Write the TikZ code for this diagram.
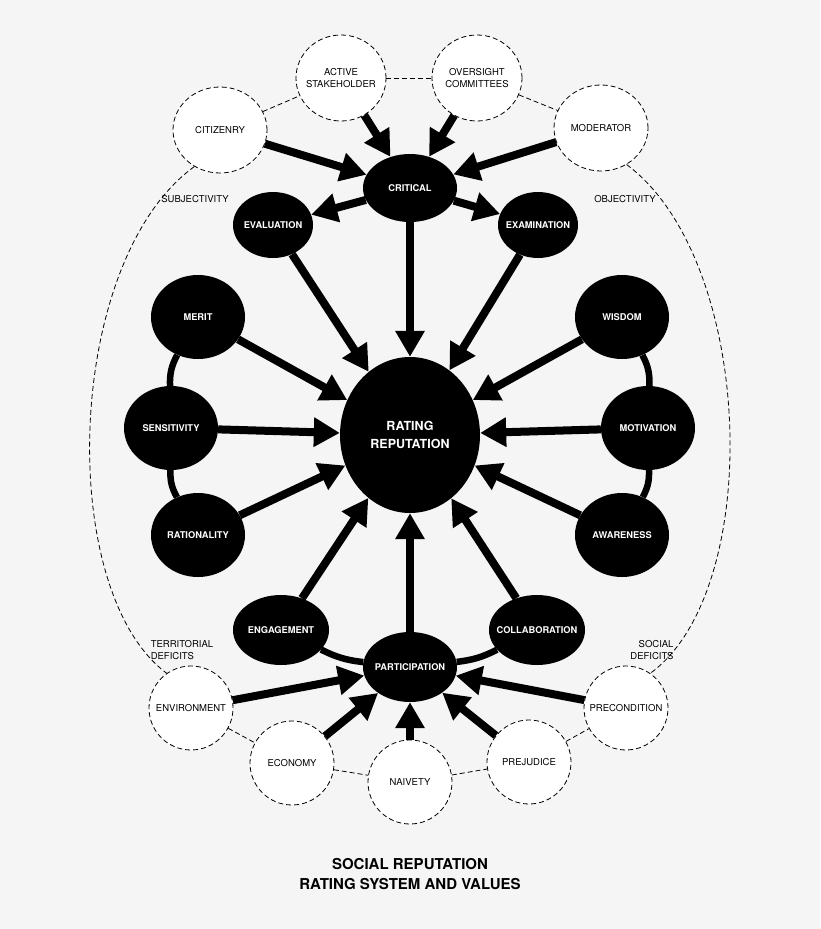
\documentclass[tikz,border=0pt]{standalone}
\usepackage{fontspec}
\setmainfont{TeX Gyre Heros}
\usepackage{xcolor}
\usepackage{tikz}
\usetikzlibrary{shapes.geometric, arrows.meta}
\definecolor{bgcol}{HTML}{F5F5F5}
\tikzstyle{ratingnode} = [ellipse, fill=black, text=white, font=\bfseries\fontsize{12.5}{18}\selectfont, align=center, inner sep=0pt, minimum width=140pt, minimum height=156pt]
\tikzstyle{valuenode} = [ellipse, fill=black, text=white, font=\bfseries\fontsize{9.3}{11}\selectfont, inner xsep=-20pt, inner ysep=0pt, minimum width=94pt, minimum height=84pt]
\tikzstyle{hubnode} = [valuenode, minimum width=94pt, minimum height=68pt]
\tikzstyle{actornode} = [ellipse, draw=black, line width=0.8pt, dash pattern=on 5pt off 3pt, fill=white, font=\fontsize{9.5}{12}\selectfont, align=center, inner xsep=-20pt, inner ysep=0pt, minimum width=90pt, minimum height=86pt]
\tikzstyle{labeltext} = [font=\fontsize{9.5}{12}\selectfont]
\tikzstyle{arrow} = [line width=8pt, -{Triangle[length=26pt, width=28pt]}]
\tikzstyle{tieline} = [line width=6.5pt]
\tikzstyle{dashline} = [line width=0.8pt, dash pattern=on 5pt off 3pt]

\begin{document}
\begin{tikzpicture}[x=1pt, y=-1pt]
	
	\useasboundingbox[fill=bgcol] (0,0) rectangle (820,929);
	
	\node (rating) [ratingnode] at (410,435) {RATING\\REPUTATION};
	
	\node (critical) [hubnode] at (410,188) {CRITICAL};
	\node (evaluation) [hubnode, minimum width=80pt, minimum height=66pt] at (273,225) {EVALUATION};
	\node (examination) [hubnode, minimum width=80pt, minimum height=66pt] at (538,225) {EXAMINATION};
	
	\node (merit) [valuenode] at (198,317) {MERIT};
	\node (sensitivity) [valuenode] at (171,428) {SENSITIVITY};
	\node (rationality) [valuenode] at (198,535) {RATIONALITY};
	\node (wisdom) [valuenode] at (622,317) {WISDOM};
	\node (motivation) [valuenode] at (648,428) {MOTIVATION};
	\node (awareness) [valuenode] at (622,535) {AWARENESS};
	
	\node (engagement) [hubnode, minimum width=96pt, minimum height=70pt] at (281,630) {ENGAGEMENT};
	\node (collaboration) [hubnode, minimum width=96pt, minimum height=70pt] at (537,630) {COLLABORATION};
	\node (participation) [hubnode, minimum height=70pt] at (410,667) {PARTICIPATION};
	
	\node (active) [actornode] at (341,78) {ACTIVE\\STAKEHOLDER};
	\node (oversight) [actornode] at (477,78) {OVERSIGHT\\COMMITTEES};
	\node (citizenry) [actornode, minimum width=94pt] at (220,130) {CITIZENRY};
	\node (moderator) [actornode, minimum width=94pt] at (601,128) {MODERATOR};
	
	\node (environment) [actornode, minimum width=84pt, minimum height=84pt] at (191,708) {ENVIRONMENT};
	\node (economy) [actornode, minimum width=84pt, minimum height=84pt] at (292,763) {ECONOMY};
	\node (naivety) [actornode, minimum width=84pt, minimum height=84pt] at (410,782) {NAIVETY};
	\node (prejudice) [actornode, minimum width=84pt, minimum height=84pt] at (529,762) {PREJUDICE};
	\node (precondition) [actornode, minimum width=84pt, minimum height=84pt] at (626,708) {PRECONDITION};
	
	\node (subjectivity) [labeltext] at (195,199) {SUBJECTIVITY};
	\node (objectivity) [labeltext] at (625,199) {OBJECTIVITY};
	\node (territorial) [labeltext, align=left] at (182,650) {TERRITORIAL\\DEFICITS};
	\node (social) [labeltext, align=right] at (652,650) {SOCIAL\\DEFICITS};
	
	\node (title) [font=\bfseries\fontsize{15}{20}\selectfont, align=center] at (410,874) {SOCIAL REPUTATION\\RATING SYSTEM AND VALUES};
	
	\draw [dashline] (active) -- (oversight);
	\draw [dashline] (citizenry) -- (active);
	\draw [dashline] (oversight) -- (moderator);
	\draw [dashline] (citizenry.235) .. controls (65,260) and (55,590) .. (environment.125);
	\draw [dashline] (moderator.305) .. controls (755,260) and (765,590) .. (precondition.55);
	\draw [dashline] (environment) -- (economy);
	\draw [dashline] (economy) -- (naivety);
	\draw [dashline] (naivety) -- (prejudice);
	\draw [dashline] (prejudice) -- (precondition);
	
	\draw [tieline] (merit) to[bend right=15] (sensitivity);
	\draw [tieline] (sensitivity) to[bend right=15] (rationality);
	\draw [tieline] (wisdom) to[bend left=15] (motivation);
	\draw [tieline] (motivation) to[bend left=15] (awareness);
	\draw [tieline] (engagement) to[bend right=10] (participation);
	\draw [tieline] (participation) to[bend right=10] (collaboration);
	
	\draw [arrow] (citizenry) -- (critical);
	\draw [arrow] (active) -- (critical);
	\draw [arrow] (oversight) -- (critical);
	\draw [arrow] (moderator) -- (critical);
	\draw [arrow] (critical) -- (evaluation);
	\draw [arrow] (critical) -- (examination);
	
	\draw [arrow] (critical) -- (rating);
	\draw [arrow] (evaluation) -- (rating);
	\draw [arrow] (examination) -- (rating);
	\draw [arrow] (merit) -- (rating);
	\draw [arrow] (sensitivity) -- (rating);
	\draw [arrow] (rationality) -- (rating);
	\draw [arrow] (wisdom) -- (rating);
	\draw [arrow] (motivation) -- (rating);
	\draw [arrow] (awareness) -- (rating);
	\draw [arrow] (engagement) -- (rating);
	\draw [arrow] (participation) -- (rating);
	\draw [arrow] (collaboration) -- (rating);
	
	\draw [arrow] (environment) -- (participation);
	\draw [arrow] (economy) -- (participation);
	\draw [arrow] (naivety) -- (participation);
	\draw [arrow] (prejudice) -- (participation);
	\draw [arrow] (precondition) -- (participation);
	
\end{tikzpicture}
\end{document}
